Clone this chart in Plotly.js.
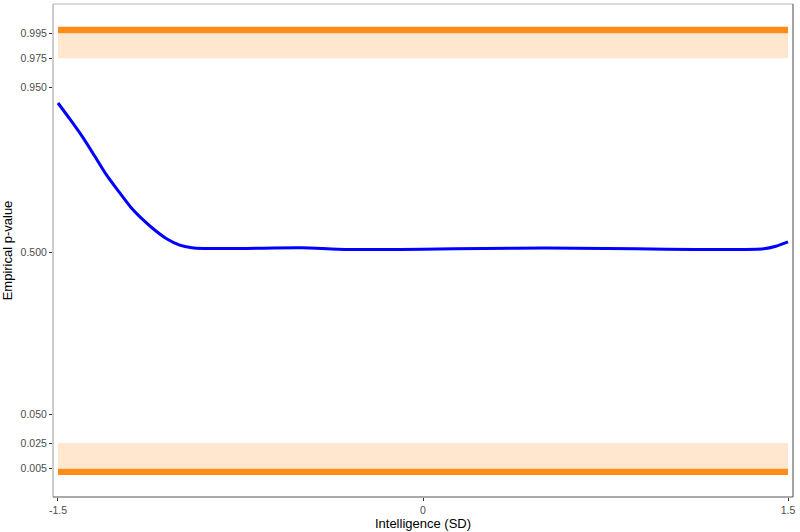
<!DOCTYPE html>
<html>
<head>
<meta charset="utf-8">
<script src="https://cdn.plot.ly/plotly-3.0.1.min.js"></script>
<style>
  html, body { margin: 0; padding: 0; background: #fff; }
  #chart { width: 800px; height: 532px; }
</style>
</head>
<body>
<div id="chart"></div>
<script>
// smoothed empirical p-value along intelligence (SD)
const intelligence = [-1.5, -1.45, -1.4, -1.35, -1.3, -1.25, -1.2, -1.15, -1.1, -1.05, -1.0, -0.95,
  -0.9, -0.75, -0.5, -0.35, -0.2, 0, 0.25, 0.5, 0.75, 1.0, 1.25, 1.4, 1.45, 1.5];
const pValue = [0.907, 0.862, 0.815, 0.763, 0.710, 0.665, 0.622, 0.588, 0.559, 0.535, 0.519, 0.512,
  0.510, 0.510, 0.512, 0.508, 0.507, 0.508, 0.510, 0.511, 0.510, 0.508, 0.507, 0.509, 0.516, 0.528];

// y tick labels
const yTicks = [0.005, 0.025, 0.05, 0.5, 0.95, 0.975, 0.995];
const yTickText = ["0.005", "0.025", "0.050", "0.500", "0.950", "0.975", "0.995"];
const xTicks = [-1.5, 0, 1.5];
const xTickText = ["-1.5", "0", "1.5"];

// significance bands: [p from, p to]
const outerBands = [[0, 0.005], [0.995, 1]];
const innerBands = [[0.005, 0.025], [0.975, 0.995]];
const bandX = [-1.5, 1.5];

// the y axis stretches the tails: piecewise-linear probability scale
const scaleP = [0, 0.005, 0.025, 0.05, 0.5, 0.95, 0.975, 0.995, 1];
const scaleT = [-0.113, -0.0957, -0.025, 0.0536, 0.5, 0.9536, 1.0333, 1.102, 1.120];

function toScale(p) {
  for (let i = 0; i < scaleP.length - 1; i++) {
    if (p <= scaleP[i + 1]) {
      const f = (p - scaleP[i]) / (scaleP[i + 1] - scaleP[i]);
      return scaleT[i] + f * (scaleT[i + 1] - scaleT[i]);
    }
  }
  return scaleT[scaleT.length - 1];
}

const bandShape = (b, color) => ({
  type: "rect", xref: "x", yref: "y", layer: "below",
  x0: bandX[0], x1: bandX[1], y0: toScale(b[0]), y1: toScale(b[1]),
  fillcolor: color, line: { width: 0 }
});

const frameLine = (x0, y0, x1, y1, color) => ({
  type: "line", xref: "paper", yref: "paper", x0, y0, x1, y1,
  line: { color, width: 1.2 }
});

const shapes = [
  ...innerBands.map(b => bandShape(b, "#FFE6CE")),
  ...outerBands.map(b => bandShape(b, "#FF8C1A")),
  frameLine(0, 1, 1, 1, "#b5b5b5"),
  frameLine(1, 0, 1, 1, "#666666"),
  frameLine(0, 0, 0, 1, "#aaaaaa"),
  frameLine(0, 0, 1, 0, "#555555")
];

const traces = [{
  type: "scatter",
  mode: "lines",
  x: intelligence,
  y: pValue.map(toScale),
  line: { color: "#0000FF", width: 3, shape: "spline", smoothing: 0.8 },
  hoverinfo: "x+text",
  text: pValue.map(v => v.toFixed(3))
}];

const tickFont = { family: "Liberation Sans, Arial, sans-serif", size: 10.5, color: "#4d4d4d" };
const titleFont = { family: "Liberation Sans, Arial, sans-serif", size: 13, color: "#000" };

const layout = {
  width: 800,
  height: 532,
  margin: { l: 53, r: 7, t: 4, b: 35 },
  paper_bgcolor: "#fff",
  plot_bgcolor: "#fff",
  showlegend: false,
  xaxis: {
    range: [-1.5205, 1.5205],
    tickvals: xTicks,
    ticktext: xTickText,
    ticks: "outside", ticklen: 3, tickwidth: 1, tickcolor: "#333",
    tickfont: tickFont,
    showgrid: false, zeroline: false, showline: false,
    title: { text: "Intelligence (SD)", font: titleFont, standoff: 4 }
  },
  yaxis: {
    range: [-0.1735, 1.1825],
    tickvals: yTicks.map(toScale),
    ticktext: yTickText,
    ticks: "outside", ticklen: 3, tickwidth: 1, tickcolor: "#333",
    tickfont: tickFont,
    showgrid: false, zeroline: false, showline: false,
    title: { text: "Empirical p-value", font: titleFont, standoff: 6 }
  },
  shapes: shapes
};

Plotly.newPlot("chart", traces, layout, { displayModeBar: false, staticPlot: true });
</script>
</body>
</html>
